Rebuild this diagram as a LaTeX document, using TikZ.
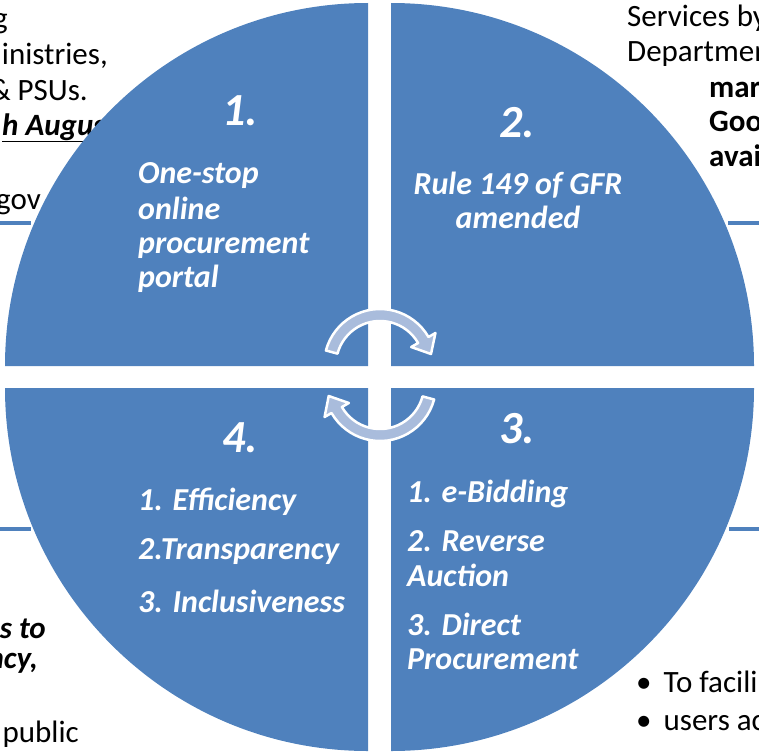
\documentclass[tikz,border=0pt]{standalone}
\usepackage{fontspec}
\setmainfont{Carlito}
\definecolor{qblue}{HTML}{4F81BD}
\definecolor{arrowblue}{HTML}{A9BCDC}
\tikzset{
 qtext/.style={text=white, font=\fontsize{32}{36}\selectfont\bfseries\itshape, inner sep=0pt},
 qnum/.style={text=white, font=\fontsize{46}{50}\selectfont\bfseries\itshape, inner sep=0pt},
 bgtext/.style={text=black, font=\fontsize{31}{34}\selectfont, inner sep=0pt},
 bgbold/.style={text=black, font=\fontsize{31}{34}\selectfont\bfseries, inner sep=0pt},
 bgbi/.style={text=black, font=\fontsize{31}{34}\selectfont\bfseries\itshape, inner sep=0pt},
 bgline/.style={draw=qblue, line width=4pt},
 pie/.style={fill=qblue},
 cyc/.style={fill=arrowblue, draw=white, line width=2.5pt, line join=round},
}
\begin{document}
\begin{tikzpicture}[x=1pt,y=-1pt]
\useasboundingbox (0,0) rectangle (759,752);
% background texts
\node[bgtext, anchor=base east] (tl1) at (8,29) {g};
\node[bgtext, anchor=base east] (tl2) at (108,64) {inistries,};
\node[bgtext, anchor=base east] (tl3) at (88,100) {\& PSUs.};
\node[bgbi, anchor=base west] (tl4) at (2,135) {\underline{h August}};
\node[bgtext, anchor=base east] (tl5) at (41,209) {.gov};
\node[bgtext, anchor=base west] (tr1) at (627,27) {Services by};
\node[bgtext, anchor=base west] (tr2) at (627,62) {Department};
\node[bgbold, anchor=base west] (tr3) at (709,97) {mar};
\node[bgbold, anchor=base west] (tr4) at (709,131) {Goo};
\node[bgbold, anchor=base west] (tr5) at (709,166) {avai};
\node[bgbi, anchor=base east] (bl1) at (46,638) {s to};
\node[bgbi, anchor=base east] (bl2) at (38,668) {ncy,};
\node[bgtext, anchor=base east] (bl3) at (79,742) {public};
\node[bgtext, anchor=base west] (br1) at (636,692) {\textbullet\hspace{12pt}To facili};
\node[bgtext, anchor=base west] (br2) at (636,730) {\textbullet\hspace{12pt}users ac};
% blue lines
\coordinate (l1a) at (0,223); \coordinate (l1b) at (31,223);
\coordinate (l2a) at (728,223); \coordinate (l2b) at (759,223);
\coordinate (l3a) at (0,529); \coordinate (l3b) at (31,529);
\coordinate (l4a) at (729,529); \coordinate (l4b) at (759,529);
\draw[bgline] (l1a) -- (l1b);
\draw[bgline] (l2a) -- (l2b);
\draw[bgline] (l3a) -- (l3b);
\draw[bgline] (l4a) -- (l4b);
% quadrants (each a quarter disk centred on its inner corner)
\coordinate (c1) at (368,366);
\coordinate (c2) at (391,366);
\coordinate (c3) at (391,388);
\coordinate (c4) at (368,388);
\fill[pie] (c1) -- ++(180:363) arc[start angle=180, end angle=270, radius=363] -- cycle;
\fill[pie] (c2) -- ++(270:363) arc[start angle=270, end angle=360, radius=363] -- cycle;
\fill[pie] (c3) -- ++(0:363) arc[start angle=0, end angle=90, radius=363] -- cycle;
\fill[pie] (c4) -- ++(90:363) arc[start angle=90, end angle=180, radius=363] -- cycle;
% cycle arrows
\path[cyc] ([shift={(195:56)}]380,365) arc[start angle=195, end angle=330, radius=56]
  -- ([shift={(330:64)}]380,365) -- (431,354) -- ([shift={(330:36)}]380,365)
  -- ([shift={(330:44)}]380,365) arc[start angle=330, end angle=195, radius=44] -- cycle;
\path[cyc] ([shift={(15:56)}]380,385) arc[start angle=15, end angle=150, radius=56]
  -- ([shift={(150:64)}]380,385) -- (328.7,396) -- ([shift={(150:36)}]380,385)
  -- ([shift={(150:44)}]380,385) arc[start angle=150, end angle=15, radius=44] -- cycle;
% quadrant 1
\node[qnum, anchor=base] (n1) at (240,125) {1.};
\node[qtext, anchor=base west] (q1a) at (138,183) {One-stop};
\node[qtext, anchor=base west] (q1b) at (138,219) {online};
\node[qtext, anchor=base west] (q1c) at (138,253) {procurement};
\node[qtext, anchor=base west] (q1d) at (138,287) {portal};
% quadrant 2
\node[qnum, anchor=base] (n2) at (517,137) {2.};
\node[qtext, anchor=base] (q2a) at (518,194) {Rule 149 of GFR};
\node[qtext, anchor=base] (q2b) at (518,228) {amended};
% quadrant 3
\node[qnum, anchor=base] (n3) at (517,443) {3.};
\node[qtext, anchor=base west] (q3a) at (407,502) {1. e-Bidding};
\node[qtext, anchor=base west] (q3b) at (407,551) {2. Reverse};
\node[qtext, anchor=base west] (q3c) at (407,586) {Auction};
\node[qtext, anchor=base west] (q3d) at (407,635) {3. Direct};
\node[qtext, anchor=base west] (q3e) at (407,669) {Procurement};
% quadrant 4
\node[qnum, anchor=base] (n4) at (240,452) {4.};
\node[qtext, anchor=base west] (q4a) at (138,510) {1. Efficiency};
\node[qtext, anchor=base west] (q4b) at (138,559) {2.Transparency};
\node[qtext, anchor=base west] (q4c) at (138,612) {3. Inclusiveness};
\end{tikzpicture}
\end{document}
